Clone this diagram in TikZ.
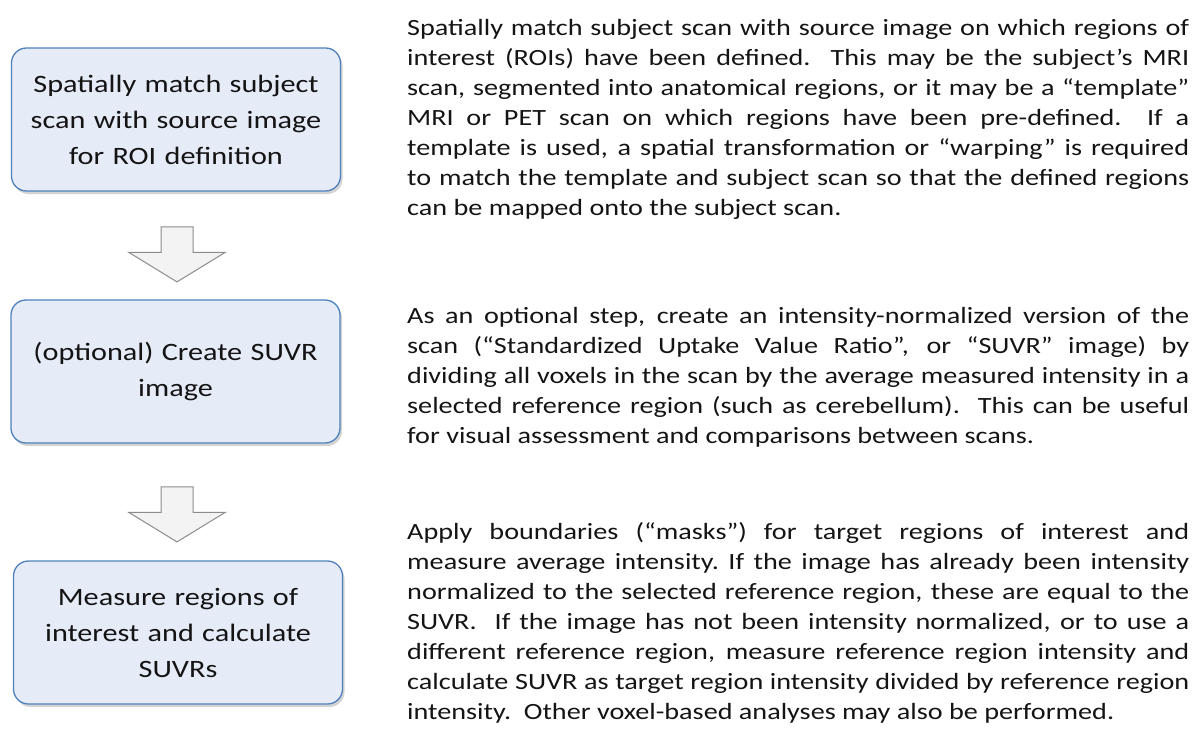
\documentclass[tikz,border=0pt]{standalone}
\usepackage{fontspec}
\setmainfont[FakeStretch=1.21]{Carlito}
\usetikzlibrary{positioning,shapes.arrows,shadows}

\definecolor{stepfill}{RGB}{229,236,248}
\definecolor{stepline}{RGB}{79,129,189}
\definecolor{arrowfill}{RGB}{243,243,243}
\definecolor{arrowline}{RGB}{140,140,140}
\definecolor{bodytext}{RGB}{20,20,20}

\tikzset{
  stepbox/.style={draw=stepline, line width=1.3pt, fill=stepfill,
    rounded corners=15pt, minimum width=329pt, minimum height=143pt,
    text width=320pt, align=center, text=bodytext,
    font=\fontsize{25}{36}\selectfont,
    drop shadow={opacity=0.35, shadow xshift=2pt, shadow yshift=-3pt}},
  downarrow/.style={single arrow, draw=arrowline, fill=arrowfill,
    line width=1pt, rotate=-90, inner sep=15.5pt, minimum height=55pt,
    single arrow head extend=32pt, single arrow tip angle=117},
  desc/.style={anchor=north west, text width=782pt, align=justify,
    inner sep=0pt, text=bodytext, font=\fontsize{23.3}{30}\selectfont}
}

\begin{document}
\begin{tikzpicture}[x=1pt, y=-1pt]

\useasboundingbox (0,0) rectangle (1195,752);

% ======================
% Steps
% ======================
\node[stepbox] (match) at (176,119.5)
  {Spatially match subject\\scan with source image\\for ROI definition};
\node[stepbox] (suvr) at (175.5,371.5)
  {(optional) Create SUVR\\image};
\node[stepbox] (measure) at (178,632.5)
  {Measure regions of\\interest and calculate\\SUVRs};

% ======================
% Flow arrows
% ======================
\node[downarrow] (arrowA) at (177,249.5) {};
\node[downarrow] (arrowB) at (177,509.5) {};

% ======================
% Descriptions
% ======================
\node[desc] (matchtext) at (407,14)
  {\strut Spatially match subject scan with source image on which regions of\linebreak
   interest (ROIs) have been defined.\ \ This may be the subject’s MRI\linebreak
   scan, segmented into anatomical regions, or it may be a “template”\linebreak
   MRI or PET scan on which regions have been pre-defined.\ \ If a\linebreak
   template is used, a spatial transformation or “warping” is required\linebreak
   to match the template and subject scan so that the defined regions\linebreak
   can be mapped onto the subject scan.};

\node[desc] (suvrtext) at (407,302)
  {\strut As an optional step, create an intensity-normalized version of the\linebreak
   scan (“Standardized Uptake Value Ratio”, or “SUVR” image) by\linebreak
   dividing all voxels in the scan by the average measured intensity in a\linebreak
   selected reference region (such as cerebellum).\ \ This can be useful\linebreak
   for visual assessment and comparisons between scans.};

\node[desc] (measuretext) at (407,518)
  {\strut Apply boundaries (“masks”) for target regions of interest and\linebreak
   measure average intensity.\ If the image has already been intensity\linebreak
   normalized to the selected reference region, these are equal to the\linebreak
   SUVR.\ \ If the image has not been intensity normalized, or to use a\linebreak
   different reference region, measure reference region intensity and\linebreak
   calculate SUVR as target region intensity divided by reference region\linebreak
   intensity.\ \ Other voxel-based analyses may also be performed.};

\end{tikzpicture}
\end{document}
